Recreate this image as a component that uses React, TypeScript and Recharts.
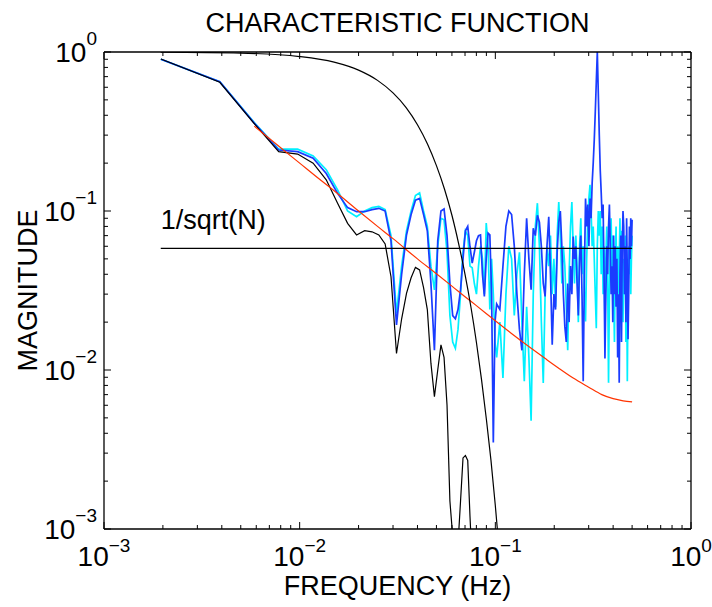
import { Line, LineChart, XAxis, YAxis } from 'recharts'

// Characteristic function magnitude of three records (512-point FFT bins),
// the Gaussian window response, the bias envelope and the 1/sqrt(N) level.
const FFT_LENGTH = 512
const FONT = '"Liberation Sans", Arial, Helvetica, sans-serif'

// every bin up to ~0.1 Hz, every other bin above that
const LOW_BINS = Array.from({ length: 52 }, (_, i) => i + 1)
const HIGH_BINS = Array.from({ length: 102 }, (_, i) => 54 + i * 2)
const BLACK_BINS = LOW_BINS.slice(0, 40)

const BLUE_LOW = [
  0.9, 0.65, 0.357, 0.242, 0.236, 0.215, 0.172, 0.129, 0.105, 0.099,
  0.099, 0.102, 0.104, 0.1, 0.065, 0.0192, 0.04, 0.0707, 0.095, 0.117,
  0.12, 0.095, 0.075, 0.035, 0.0133, 0.065, 0.1, 0.103, 0.07, 0.035,
  0.022, 0.021, 0.024, 0.032, 0.05, 0.075, 0.08, 0.0596, 0.047, 0.055,
  0.065, 0.07, 0.0707, 0.04, 0.029, 0.05, 0.0726, 0.0707, 0.03, 0.0035,
  0.02, 0.026,
]
const BLUE_HIGH = [
  0.024, 0.045, 0.08, 0.1, 0.095, 0.06, 0.03, 0.018, 0.0133, 0.04,
  0.09, 0.05, 0.032, 0.078, 0.07, 0.094, 0.085, 0.06, 0.035, 0.029,
  0.06, 0.092, 0.04, 0.0144, 0.03, 0.024, 0.055, 0.085, 0.1, 0.06,
  0.03, 0.0188, 0.015, 0.035, 0.02, 0.045, 0.03, 0.069, 0.05, 0.06,
  0.035, 0.022, 0.05, 0.07, 0.03, 0.0085, 0.04, 0.12, 0.08, 0.11,
  0.06, 0.12, 0.09, 0.15, 0.2, 0.28, 0.42, 0.65, 1.0, 0.55,
  0.3, 0.18, 0.13, 0.09, 0.11, 0.04, 0.0118, 0.03, 0.06, 0.04,
  0.08, 0.11, 0.06, 0.03, 0.045, 0.02, 0.07, 0.03, 0.06, 0.025,
  0.05, 0.012, 0.03, 0.0083, 0.04, 0.07, 0.015, 0.06, 0.1, 0.08,
  0.03, 0.06, 0.02, 0.09, 0.04, 0.0156, 0.03, 0.08, 0.05, 0.09,
  0.06, 0.088,
]

const CYAN_LOW = [
  0.9, 0.65, 0.36, 0.245, 0.245, 0.222, 0.182, 0.136, 0.1, 0.092,
  0.1, 0.105, 0.107, 0.102, 0.07, 0.0227, 0.045, 0.075, 0.1, 0.125,
  0.13, 0.1, 0.08, 0.045, 0.0319, 0.06, 0.09, 0.088, 0.055, 0.022,
  0.015, 0.0137, 0.018, 0.03, 0.055, 0.075, 0.07, 0.045, 0.044, 0.035,
  0.03, 0.045, 0.06, 0.05, 0.03, 0.084, 0.06, 0.024, 0.05, 0.03,
  0.015, 0.012,
]
const CYAN_HIGH = [
  0.02, 0.0089, 0.03, 0.06, 0.05, 0.022, 0.04, 0.055, 0.02, 0.0085,
  0.025, 0.012, 0.0048, 0.03, 0.08, 0.112, 0.06, 0.02, 0.0083, 0.03,
  0.06, 0.045, 0.07, 0.03, 0.05, 0.025, 0.07, 0.114, 0.07, 0.035,
  0.06, 0.045, 0.025, 0.0133, 0.04, 0.08, 0.114, 0.06, 0.035, 0.07,
  0.045, 0.02, 0.06, 0.09, 0.04, 0.06, 0.03, 0.0202, 0.05, 0.09,
  0.12, 0.146, 0.1, 0.06, 0.08, 0.05, 0.03, 0.0183, 0.06, 0.1,
  0.07, 0.1, 0.04, 0.08, 0.03, 0.06, 0.02, 0.05, 0.08, 0.04,
  0.0083, 0.03, 0.06, 0.09, 0.04, 0.07, 0.03, 0.015, 0.05, 0.08,
  0.03, 0.06, 0.02, 0.05, 0.09, 0.03, 0.075, 0.04, 0.02, 0.05,
  0.03, 0.07, 0.015, 0.05, 0.0085, 0.03, 0.06, 0.04, 0.07, 0.03,
  0.05, 0.07,
]

const BLACK_LOW = [
  0.904, 0.645, 0.355, 0.236, 0.228, 0.2, 0.157, 0.112, 0.0836, 0.0707,
  0.0752, 0.074, 0.0707, 0.062, 0.0386, 0.0127, 0.021, 0.0303, 0.038, 0.0442,
  0.0426, 0.033, 0.024, 0.011, 0.0068, 0.01, 0.0144, 0.012, 0.006, 0.0015,
  0.0009, 0.0006, 0.0008, 0.0015, 0.0028, 0.0029, 0.0027, 0.0012, 0.0006, 0.0004,
]

const GAUSS_FREQ = [
  0.00195, 0.005, 0.01, 0.015, 0.02, 0.025, 0.03, 0.035, 0.04, 0.045, 0.05, 0.055,
  0.06, 0.065, 0.07, 0.075, 0.08, 0.085, 0.09, 0.095, 0.1, 0.105, 0.11,
]
const GAUSS_MAG = [
  0.997, 0.984, 0.936, 0.863, 0.769, 0.663, 0.553, 0.447, 0.349, 0.264, 0.193, 0.137,
  0.094, 0.062, 0.04, 0.025, 0.015, 0.0087, 0.0049, 0.0027, 0.0014, 0.0007, 0.00035,
]

const BIAS_FREQ = [
  0.00586, 0.008, 0.01, 0.0125, 0.015, 0.02, 0.025, 0.03, 0.04, 0.05, 0.06, 0.07,
  0.08, 0.1, 0.12, 0.15, 0.18, 0.21, 0.25, 0.3, 0.35, 0.4, 0.45, 0.5,
]
const BIAS_MAG = [
  0.342, 0.25, 0.2, 0.16, 0.134, 0.1, 0.08, 0.067, 0.05, 0.0403, 0.0337, 0.0289,
  0.0254, 0.0204, 0.0171, 0.0139, 0.0118, 0.0103, 0.0089, 0.0078, 0.007, 0.0066, 0.0064, 0.0063,
]

const NOISE_FREQ = [0.00195, 0.5]
const NOISE_LEVEL = 0.0582

const DECADES = [0.001, 0.01, 0.1, 1]
const MINOR = [2, 3, 4, 5, 6, 7, 8, 9]
const LOG_TICKS = DECADES.flatMap((d, i) =>
  i === DECADES.length - 1 ? [d] : [d, ...MINOR.map((m) => m * d)]
)

const binPoints = (bins: number[], vals: number[]) =>
  vals.map((v, i) => ({ f: bins[i] / FFT_LENGTH, v }))
const pairPoints = (fs: number[], vals: number[]) => vals.map((v, i) => ({ f: fs[i], v }))

const blueData = [...binPoints(LOW_BINS, BLUE_LOW), ...binPoints(HIGH_BINS, BLUE_HIGH)]
const cyanData = [...binPoints(LOW_BINS, CYAN_LOW), ...binPoints(HIGH_BINS, CYAN_HIGH)]
const blackData = binPoints(BLACK_BINS, BLACK_LOW)
const gaussData = pairPoints(GAUSS_FREQ, GAUSS_MAG)
const biasData = pairPoints(BIAS_FREQ, BIAS_MAG)
const noiseData = NOISE_FREQ.map((f) => ({ f, v: NOISE_LEVEL }))

type Side = 'top' | 'bottom' | 'left' | 'right'

// inward ticks on all four sides, 10^n labels on bottom/left only
function logTick(side: Side) {
  return (props: any) => {
    const { x, y, payload } = props
    const value = Number(payload.value)
    const lg = Math.log10(value)
    const exp = Math.round(lg)
    const major = Math.abs(lg - exp) < 1e-6
    const len = major ? 7 : 4
    const sup = exp === 0 ? '0' : `\u2212${-exp}`
    let tickLine
    if (side === 'bottom') tickLine = <line x1={x} y1={y} x2={x} y2={y - len} stroke="#000" />
    else if (side === 'top') tickLine = <line x1={x} y1={y} x2={x} y2={y + len} stroke="#000" />
    else if (side === 'left') tickLine = <line x1={x} y1={y} x2={x + len} y2={y} stroke="#000" />
    else tickLine = <line x1={x} y1={y} x2={x - len} y2={y} stroke="#000" />
    return (
      <g>
        {tickLine}
        {major && side === 'bottom' && (
          <text x={x} y={y + 37} textAnchor="middle" fill="#000" fontFamily={FONT}>
            <tspan fontSize={28}>10</tspan>
            <tspan fontSize={19} dy={-14}>{sup}</tspan>
          </text>
        )}
        {major && side === 'left' && (
          <text x={x - 7} y={y + 10} textAnchor="end" fill="#000" fontFamily={FONT}>
            <tspan fontSize={28}>10</tspan>
            <tspan fontSize={19} dy={-17}>{sup}</tspan>
          </text>
        )}
      </g>
    )
  }
}

const axisLine = { stroke: '#000', strokeWidth: 1.3 }
const logAxis = {
  type: 'number' as const,
  scale: 'log' as const,
  domain: [0.001, 1],
  ticks: LOG_TICKS,
  interval: 0,
  allowDataOverflow: true,
  axisLine,
  tickLine: false,
  tickSize: 0,
  tickMargin: 0,
}

export default function App() {
  return (
    <div style={{ width: 712, height: 607, background: '#fff' }}>
      <style>{'body{margin:0}'}</style>
      <LineChart width={712} height={607} margin={{ top: 51, right: 20, bottom: 0, left: 0 }}>
        <XAxis
          {...logAxis}
          dataKey="f"
          height={78}
          tick={logTick('bottom')}
          label={{
            content: ({ viewBox }: any) => (
              <text
                x={viewBox.x + viewBox.width / 2}
                y={viewBox.y + 66}
                textAnchor="middle"
                fontFamily={FONT}
                fontSize={27}
                fill="#000"
              >
                FREQUENCY (Hz)
              </text>
            ),
          }}
        />
        <XAxis
          {...logAxis}
          xAxisId="top"
          orientation="top"
          dataKey="f"
          height={1}
          tick={logTick('top')}
          label={{
            content: ({ viewBox }: any) => (
              <text
                x={viewBox.x + viewBox.width / 2}
                y={viewBox.y - 19}
                textAnchor="middle"
                fontFamily={FONT}
                fontSize={27}
                fill="#000"
              >
                CHARACTERISTIC FUNCTION
              </text>
            ),
          }}
        />
        <YAxis
          {...logAxis}
          width={104}
          tick={logTick('left')}
          label={{
            content: ({ viewBox }: any) => {
              const cx = 37
              const cy = viewBox.y + viewBox.height / 2
              return (
                <text
                  x={cx}
                  y={cy}
                  transform={`rotate(-90, ${cx}, ${cy})`}
                  textAnchor="middle"
                  fontFamily={FONT}
                  fontSize={27}
                  fill="#000"
                >
                  MAGNITUDE
                </text>
              )
            },
          }}
        />
        <YAxis {...logAxis} yAxisId="right" orientation="right" width={1} tick={logTick('right')} />

        <Line data={cyanData} dataKey="v" stroke="#00f0ff" strokeWidth={1.7} dot={false} activeDot={false} isAnimationActive={false} />
        <Line data={blueData} dataKey="v" stroke="#1a3cff" strokeWidth={1.7} dot={false} activeDot={false} isAnimationActive={false} />
        <Line data={blackData} dataKey="v" stroke="#000" strokeWidth={1.2} dot={false} activeDot={false} isAnimationActive={false} />
        <Line data={biasData} dataKey="v" type="monotone" stroke="#ff3300" strokeWidth={1.2} dot={false} activeDot={false} isAnimationActive={false} />
        <Line data={gaussData} dataKey="v" type="monotone" stroke="#000" strokeWidth={1.2} dot={false} activeDot={false} isAnimationActive={false} />
        <Line
          data={noiseData}
          dataKey="v"
          stroke="#000"
          strokeWidth={1.2}
          dot={false}
          activeDot={false}
          isAnimationActive={false}
          label={(p: any) =>
            p.index === 0 ? (
              <text key="noise-label" x={p.x} y={p.y - 19} fontFamily={FONT} fontSize={27} fill="#000">
                1/sqrt(N)
              </text>
            ) : (
              <g key={`noise-${p.index}`} />
            )
          }
        />
      </LineChart>
    </div>
  )
}
